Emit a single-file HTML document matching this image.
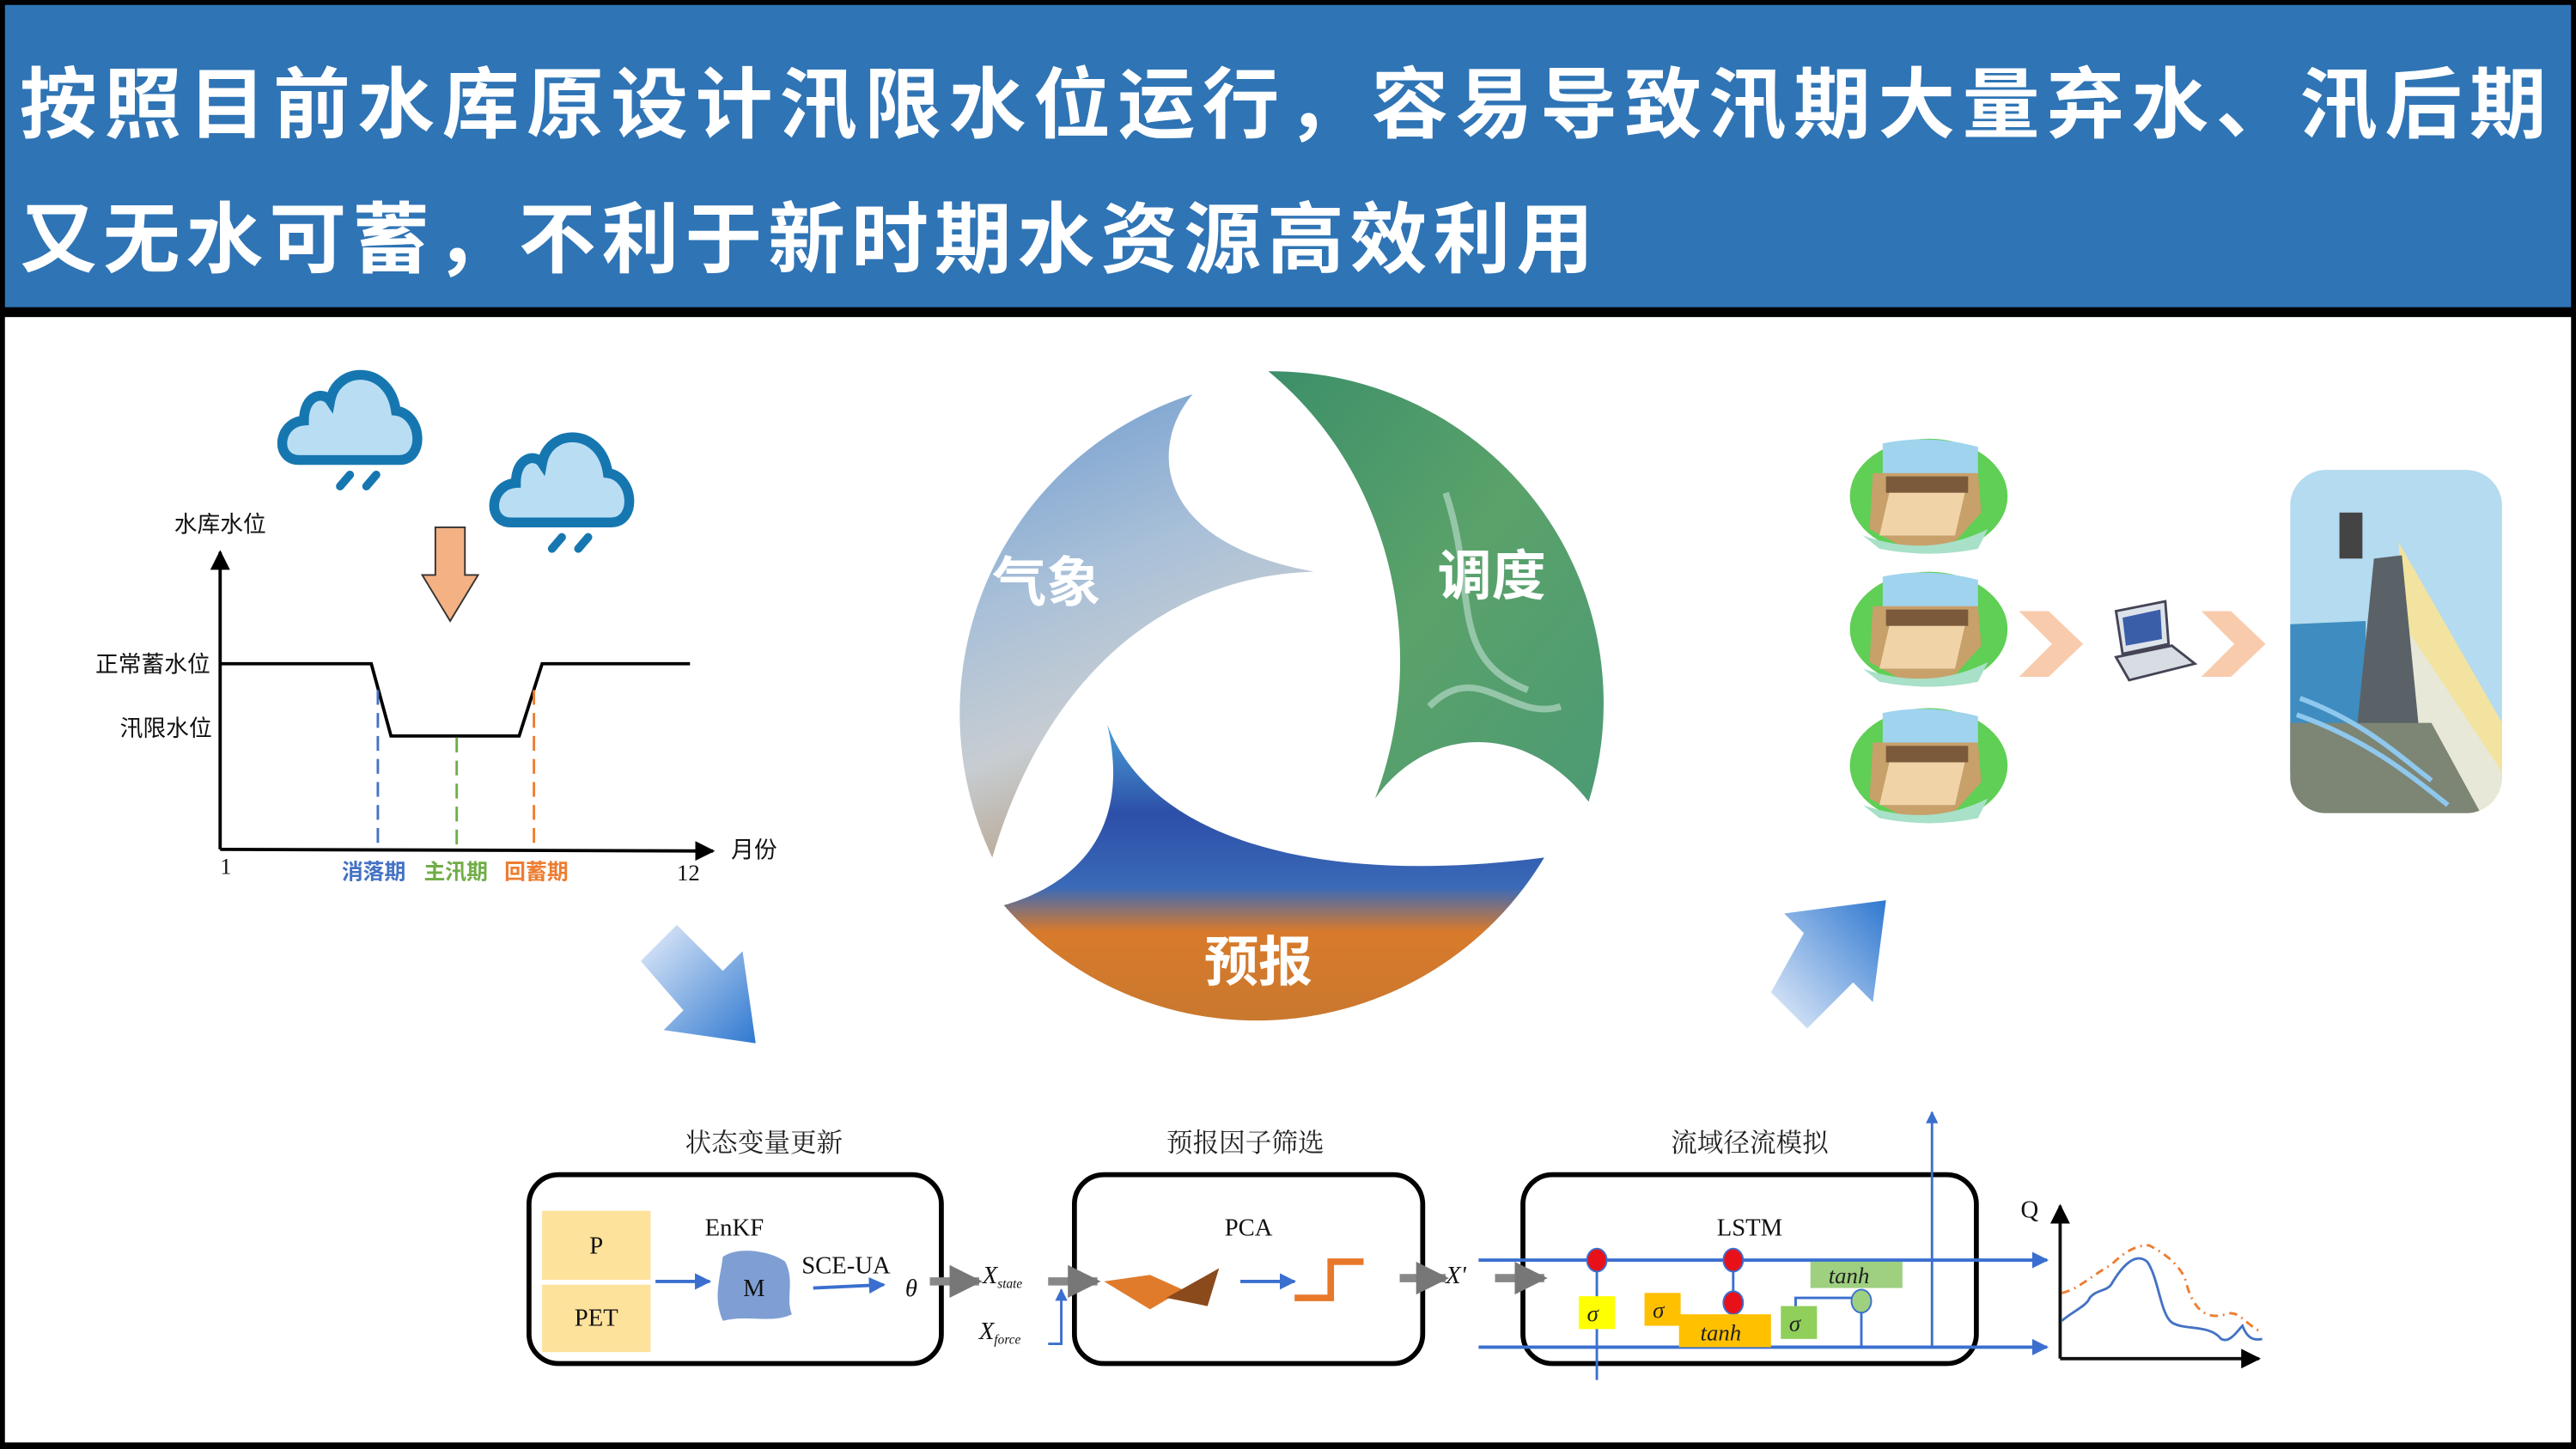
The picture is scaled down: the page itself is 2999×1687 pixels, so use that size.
<!DOCTYPE html>
<html><head><meta charset="utf-8"><style>
html,body{margin:0;padding:0;background:#fff;}
svg{display:block;}
</style></head><body>
<svg width="2999" height="1687" viewBox="0 0 1568 882" preserveAspectRatio="none" xmlns="http://www.w3.org/2000/svg">
<defs>
<linearGradient id="sky" x1="0" y1="0" x2="0.3" y2="1"><stop offset="0" stop-color="#6f9bcf"/><stop offset="0.45" stop-color="#a9c0d8"/><stop offset="0.75" stop-color="#c7cdd2"/><stop offset="1" stop-color="#b8a58c"/></linearGradient>
<linearGradient id="grn" x1="0" y1="0" x2="1" y2="1"><stop offset="0" stop-color="#3d8f6a"/><stop offset="0.5" stop-color="#5aa26a"/><stop offset="1" stop-color="#4d9a74"/></linearGradient>
<linearGradient id="bot" x1="0" y1="0" x2="0" y2="1"><stop offset="0" stop-color="#4aa0d8"/><stop offset="0.3" stop-color="#2d4fa8"/><stop offset="0.55" stop-color="#3a6ab8"/><stop offset="0.7" stop-color="#d87a2c"/><stop offset="1" stop-color="#c9782e"/></linearGradient>
<linearGradient id="ba1" x1="0" y1="0" x2="1" y2="1"><stop offset="0" stop-color="#e6eefa"/><stop offset="1" stop-color="#2f78d0"/></linearGradient>
<linearGradient id="ba2" x1="0" y1="1" x2="1" y2="0"><stop offset="0" stop-color="#e6eefa"/><stop offset="1" stop-color="#2f78d0"/></linearGradient>
<linearGradient id="dam" x1="0" y1="0" x2="0" y2="1"><stop offset="0" stop-color="#a9d6ee"/><stop offset="0.5" stop-color="#c9e6f3"/><stop offset="1" stop-color="#b8dcc0"/></linearGradient>
<marker id="ah" viewBox="0 0 10 10" refX="9" refY="5" markerWidth="6" markerHeight="6" orient="auto"><path d="M0,0L10,5L0,10Z" fill="#000"/></marker>
<marker id="bh" viewBox="0 0 10 10" refX="9" refY="5" markerWidth="5" markerHeight="5" orient="auto"><path d="M0,0L10,5L0,10Z" fill="#3a6fcf"/></marker>
<marker id="gh" viewBox="0 0 10 10" refX="9" refY="5" markerWidth="4" markerHeight="4" orient="auto"><path d="M0,0L10,5L0,10Z" fill="#777"/></marker>
<g id="cloud"><path d="M-35,18 C-50,18 -48,-5 -32,-6 C-32,-22 -20,-24 -16,-18 C-12,-40 20,-40 24,-12 C40,-10 42,18 26,18 Z" fill="#b9def3" stroke="#1677b0" stroke-width="6"/><path d="M-10,34 L-4,27 M6,34 L12,27" stroke="#1677b0" stroke-width="5" stroke-linecap="round"/></g>
<g id="damc"><ellipse cx="0" cy="0" rx="48" ry="35" fill="#5fcf55"/><path d="M-28,-32 Q0,-38 30,-30 L30,-12 L-28,-12Z" fill="#9fd3ee"/><path d="M-34,-14 L30,-14 L32,10 L14,30 L-14,32 L-36,20Z" fill="#c7a06a"/><path d="M-26,-12 L24,-12 L24,-2 L-26,-2Z" fill="#7a5a3a"/><path d="M-24,-2 L22,-2 L16,24 L-30,24Z" fill="#f0d4a8"/><path d="M-40,24 Q0,38 36,20 L30,32 Q0,38 -30,32Z" fill="#a8e0c8"/></g>
</defs>

<rect x="0" y="0" width="1568" height="882" fill="#000"/>
<rect x="3" y="3" width="1562" height="184" fill="#2f74b5"/>
<rect x="3" y="193" width="1562" height="685" fill="#fff"/>
<g font-family="'Liberation Sans','Noto Sans CJK SC',sans-serif" font-weight="bold" fill="#fff" font-size="47">
<text x="12" y="80" textLength="1538" lengthAdjust="spacing">按照目前水库原设计汛限水位运行，容易导致汛期大量弃水、汛后期</text>
<text x="12" y="162" textLength="958" lengthAdjust="spacing">又无水可蓄，不利于新时期水资源高效利用</text>
</g>

<use href="#cloud" x="217" y="262"/>
<use href="#cloud" x="346" y="300"/>
<path d="M265,321 L283,321 L283,350 L291,350 L274,378 L257,350 L265,350Z" fill="#f4b183" stroke="#333" stroke-width="1"/>
<line x1="134" y1="517" x2="134" y2="336" stroke="#000" stroke-width="2" marker-end="url(#ah)"/>
<line x1="134" y1="517" x2="434" y2="518" stroke="#000" stroke-width="2" marker-end="url(#ah)"/>
<polyline points="134,404 226,404 238,448 316,448 330,404 420,404" fill="none" stroke="#000" stroke-width="2"/>
<line x1="230" y1="420" x2="230" y2="515" stroke="#4472c4" stroke-width="1.5" stroke-dasharray="9,5"/>
<line x1="278" y1="449" x2="278" y2="516" stroke="#70ad47" stroke-width="1.5" stroke-dasharray="9,5"/>
<line x1="325" y1="420" x2="325" y2="516" stroke="#ed7d31" stroke-width="1.5" stroke-dasharray="9,5"/>
<g font-family="'Liberation Sans','Noto Sans CJK SC',sans-serif" font-size="14" fill="#111">
<text x="106" y="324">水库水位</text>
<text x="128" y="409" text-anchor="end">正常蓄水位</text>
<text x="129" y="448" text-anchor="end">汛限水位</text>
<text x="445" y="522">月份</text>
</g>
<g font-family="'Liberation Serif',serif" font-size="14" fill="#111"><text x="134" y="532">1</text><text x="412" y="536">12</text></g>
<g font-family="'Liberation Sans','Noto Sans CJK SC',sans-serif" font-size="13" font-weight="bold">
<text x="208" y="535" fill="#4472c4">消落期</text><text x="258" y="535" fill="#70ad47">主汛期</text><text x="307" y="535" fill="#ed7d31">回蓄期</text>
</g>

<path d="M390,585 L412,563 L440,591 L452,579 L460,635 L404,627 L416,615Z" fill="url(#ba1)"/>
<path d="M1078,604 L1100,626 L1128,598 L1140,610 L1148,548 L1086,556 L1098,568Z" fill="url(#ba2)"/>

<path d="M726,240 C700,270 700,330 800,348 C720,350 640,400 604,522 A204,204 0 0 1 726,240Z" fill="url(#sky)"/>
<path d="M772,226 A202,202 0 0 1 967,488 C930,440 870,440 837,486 C870,400 850,290 772,226Z" fill="url(#grn)"/>
<path d="M611,551 C650,540 690,510 674,441 C700,510 800,540 940,522 A204,204 0 0 1 611,551Z" fill="url(#bot)"/>
<path d="M880,300 C900,360 880,400 930,420 M870,430 C900,400 920,440 950,430" fill="none" stroke="#a6d0b8" stroke-width="4" opacity="0.8"/>
<g font-family="'Liberation Sans','Noto Sans CJK SC',sans-serif" font-weight="bold" font-size="33" fill="#fff">
<text x="604" y="366">气象</text><text x="875" y="362">调度</text><text x="733" y="597">预报</text>
</g>

<use href="#damc" x="1174" y="302"/>
<use href="#damc" x="1174" y="383"/>
<use href="#damc" x="1174" y="466"/>
<path d="M1229,372 L1247,372 L1268,392 L1247,412 L1229,412 L1249,392Z" fill="#f8cbad"/>
<path d="M1340,372 L1358,372 L1379,392 L1358,412 L1340,412 L1360,392Z" fill="#f8cbad"/>
<path d="M1288,372 L1318,366 L1320,392 L1292,398Z" fill="#dde3ea" stroke="#445" stroke-width="1.5"/>
<path d="M1292,376 L1315,371 L1316,389 L1294,393Z" fill="#3b5ea8"/>
<path d="M1288,400 L1322,393 L1336,404 L1296,414Z" fill="#d8dde4" stroke="#445" stroke-width="1.5"/>
<clipPath id="bc"><rect x="1394" y="286" width="129" height="209" rx="22"/></clipPath>
<g clip-path="url(#bc)">
<rect x="1394" y="286" width="129" height="209" fill="#b4dbf0"/>
<path d="M1394,380 L1440,378 L1440,470 L1394,470Z" fill="#3f8dc0"/>
<path d="M1460,330 L1523,440 L1523,495 L1470,495Z" fill="#f3e3a0"/>
<path d="M1463,380 L1523,470 L1523,495 L1470,495Z" fill="#e8e8d8"/>
<path d="M1432,470 L1445,340 L1462,338 L1475,470Z" fill="#5a6268"/>
<path d="M1394,440 L1480,440 L1510,495 L1394,495Z" fill="#7d8574"/>
<rect x="1424" y="312" width="14" height="28" fill="#444"/>
<path d="M1400,425 C1440,440 1460,460 1480,475 M1398,435 C1440,450 1465,470 1490,490" stroke="#8fc8ee" stroke-width="3" fill="none"/>
</g>

<g font-family="'Liberation Serif','Noto Serif CJK SC',serif" fill="#222">
<text x="465" y="701" font-size="16" text-anchor="middle">状态变量更新</text>
<text x="758" y="701" font-size="16" text-anchor="middle">预报因子筛选</text>
<text x="1065" y="701" font-size="16" text-anchor="middle">流域径流模拟</text>
</g>
<rect x="322" y="715" width="251" height="115" rx="18" fill="none" stroke="#000" stroke-width="3"/>
<rect x="654" y="715" width="212" height="115" rx="18" fill="none" stroke="#000" stroke-width="3"/>
<rect x="927" y="715" width="276" height="115" rx="18" fill="none" stroke="#000" stroke-width="3"/>
<rect x="330" y="737" width="66" height="42" fill="#fde29c"/>
<rect x="330" y="782" width="66" height="41" fill="#fde29c"/>
<path d="M440,765 C450,758 470,762 478,768 C484,780 478,790 482,800 C470,806 455,800 440,804 C434,790 438,780 440,765Z" fill="#7f9fd4"/>
<g font-family="'Liberation Serif',serif" fill="#111" font-size="15">
<text x="363" y="763" text-anchor="middle">P</text>
<text x="363" y="807" text-anchor="middle">PET</text>
<text x="447" y="752" text-anchor="middle">EnKF</text>
<text x="459" y="789" text-anchor="middle">M</text>
<text x="515" y="775" text-anchor="middle">SCE-UA</text>
<text x="551" y="789" font-style="italic">θ</text>
<text x="598" y="781" font-style="italic">X<tspan font-size="8" dy="3">state</tspan></text>
<text x="596" y="815" font-style="italic">X<tspan font-size="8" dy="3">force</tspan></text>
<text x="760" y="752" text-anchor="middle">PCA</text>
<text x="880" y="781" font-style="italic">X'</text>
<text x="1065" y="752" text-anchor="middle">LSTM</text>
<text x="1230" y="741">Q</text>
</g>
<g stroke="#3a6fcf" stroke-width="2" fill="none">
<line x1="399" y1="780" x2="432" y2="780" marker-end="url(#bh)"/>
<line x1="495" y1="784" x2="538" y2="782" marker-end="url(#bh)"/>
<line x1="755" y1="780" x2="788" y2="780" marker-end="url(#bh)"/>
<path d="M638,818 L646,818 L646,785" marker-end="url(#bh)" stroke-width="1.5"/>
<line x1="900" y1="767" x2="1246" y2="767" marker-end="url(#bh)"/>
<line x1="900" y1="820" x2="1246" y2="820" marker-end="url(#bh)"/>
<line x1="1176" y1="820" x2="1176" y2="677" marker-end="url(#bh)" stroke-width="1.5"/>
<line x1="972" y1="840" x2="972" y2="770" stroke-width="1.5"/>
<line x1="1055" y1="820" x2="1055" y2="770" stroke-width="1.5"/>
<path d="M1093,812 L1093,790 L1128,790" stroke-width="1.5"/>
<path d="M1133,797 L1133,820" stroke-width="1.5"/>
</g>
<g stroke="#888" stroke-width="5" fill="none">
<line x1="566" y1="780" x2="596" y2="780" marker-end="url(#gh)"/>
<line x1="638" y1="780" x2="668" y2="780" marker-end="url(#gh)"/>
<line x1="852" y1="778" x2="880" y2="778" marker-end="url(#gh)"/>
<line x1="910" y1="778" x2="940" y2="778" marker-end="url(#gh)"/>
</g>
<path d="M672,780 L700,776 L720,785 L742,772 L735,795 L712,790 L700,797Z" fill="#e07b2c"/>
<path d="M710,790 L742,772 L735,795Z" fill="#8a4a1c"/>
<path d="M788,790 L810,790 L810,768 L830,768" fill="none" stroke="#e8782a" stroke-width="4"/>
<g stroke="#3a6fcf" stroke-width="1"><ellipse cx="972" cy="767" rx="6" ry="7" fill="#e8111a"/><ellipse cx="1055" cy="767" rx="6" ry="7" fill="#e8111a"/><ellipse cx="1055" cy="793" rx="6" ry="7" fill="#e8111a"/><ellipse cx="1133" cy="792" rx="6" ry="7" fill="#9ed080"/></g>
<rect x="961" y="789" width="22" height="20" fill="#ffff00"/>
<rect x="1001" y="787" width="22" height="20" fill="#ffc000"/>
<rect x="1022" y="800" width="56" height="20" fill="#ffc000"/>
<rect x="1084" y="795" width="22" height="20" fill="#8fcf5a"/>
<rect x="1102" y="768" width="56" height="16" fill="#9ed080"/>
<g font-family="'Liberation Serif',serif" font-style="italic" fill="#222" font-size="14">
<text x="966" y="804">σ</text><text x="1006" y="802">σ</text><text x="1089" y="810">σ</text>
<text x="1035" y="816">tanh</text><text x="1113" y="781">tanh</text>
</g>
<line x1="1254" y1="827" x2="1254" y2="734" stroke="#111" stroke-width="2" marker-end="url(#ah)"/>
<line x1="1254" y1="827" x2="1375" y2="827" stroke="#111" stroke-width="2" marker-end="url(#ah)"/>
<path d="M1255,804 C1262,798 1270,795 1272,790 C1276,785 1282,786 1285,782 C1292,770 1300,762 1307,768 C1314,778 1315,800 1322,805 C1330,810 1345,806 1352,815 C1357,818 1362,810 1365,807 C1368,815 1372,816 1377,815" fill="none" stroke="#4472c4" stroke-width="1.5"/>
<path d="M1255,787 C1265,785 1275,775 1285,770 C1295,760 1302,758 1308,758 C1316,762 1325,768 1330,778 C1335,800 1345,803 1355,800 C1362,797 1366,805 1375,810" fill="none" stroke="#ed7d31" stroke-width="1.5" stroke-dasharray="5,3,1,3"/>
</svg>
</body></html>
